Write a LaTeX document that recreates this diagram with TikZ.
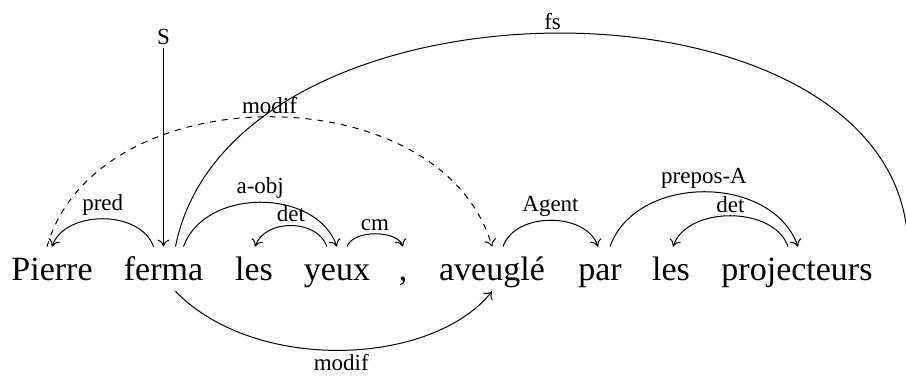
\documentclass[tikz,border=0pt]{standalone}
\usepackage{fontspec}
\setmainfont{Liberation Serif}
\usetikzlibrary{arrows.meta,calc}
\begin{document}
\begin{tikzpicture}[x=0.5pt,y=-0.5pt,
  word/.style={anchor=base, font=\fontsize{17}{20}\selectfont, text height=11pt, text depth=0pt, inner xsep=0pt, inner ysep=5.5pt},
  lbl/.style={font=\fontsize{11.5}{13}\selectfont, inner sep=1.5pt},
  dep/.style={-{To[length=3.5pt,width=6pt]}, line width=0.5pt},
  plain/.style={line width=0.5pt},
]
\useasboundingbox (0,0) rectangle (906,376);
\node[word] (Pierre) at (52,280) {Pierre};
\node[word] (ferma) at (163.5,280) {ferma};
\node[word] (les1) at (254,280) {les};
\node[word] (yeux) at (337,280) {yeux};
\node[word] (comma) at (403,280) {,};
\node[word] (aveugle) at (492,280) {aveuglé};
\node[word] (par) at (600,280) {par};
\node[word] (les2) at (671,280) {les};
\node[word] (proj) at (797,280) {projecteurs};
\coordinate (fsend) at (908,250);

\node[lbl] (S) at (163.5,37) {S};
\draw[dep] (S.south) -- (S.south |- ferma.north);

\draw[dep] ($(ferma.north)+(-10,0)$) .. controls +(-13,-37) and +(13,-37) .. (Pierre.north)
  node[lbl, midway, above] {pred};
\draw[dep] ($(ferma.north)+(20,0)$) .. controls +(21,-59) and +(-21,-59) .. (yeux.north)
  node[lbl, midway, above] {a-obj};
\draw[dep] ($(yeux.north)+(-10,0)$) .. controls +(-10,-28) and +(10,-28) .. ($(les1.north)+(1,0)$)
  node[lbl, midway, above] {det};
\draw[dep] ($(yeux.north)+(10,0)$) .. controls +(6,-17) and +(-6,-17) .. (comma.north)
  node[lbl, midway, above] {cm};
\draw[dep] ($(aveugle.north)+(11,0)$) .. controls +(12,-35) and +(-12,-35) .. ($(par.north)+(-2,0)$)
  node[lbl, midway, above] {Agent};
\draw[dep] ($(par.north)+(10,0)$) .. controls +(26,-73) and +(-26,-73) .. ($(proj.north)+(1,0)$)
  node[lbl, midway, above] {prepos-A};
\draw[dep] ($(proj.north)+(-9,0)$) .. controls +(-14,-41) and +(14,-41) .. ($(les2.north)+(2,0)$)
  node[lbl, midway, above] {det};
\draw[dep, dashed] ($(Pierre.north)+(-5,0)$) .. controls +(50,-173) and +(-50,-173) .. (aveugle.north)
  node[lbl, midway, above] {modif};
\draw[plain] ($(ferma.north)+(12,0)$) .. controls +(57,-287) and +(0,-287) .. (fsend)
  node[lbl, pos=0.49, above] {fs};
\draw[dep] ($(ferma.south)+(12,0)$) .. controls +(80,82) and +(-60,75) .. (aveugle.south)
  node[lbl, midway, below=0.5pt] {modif};
\end{tikzpicture}
\end{document}
